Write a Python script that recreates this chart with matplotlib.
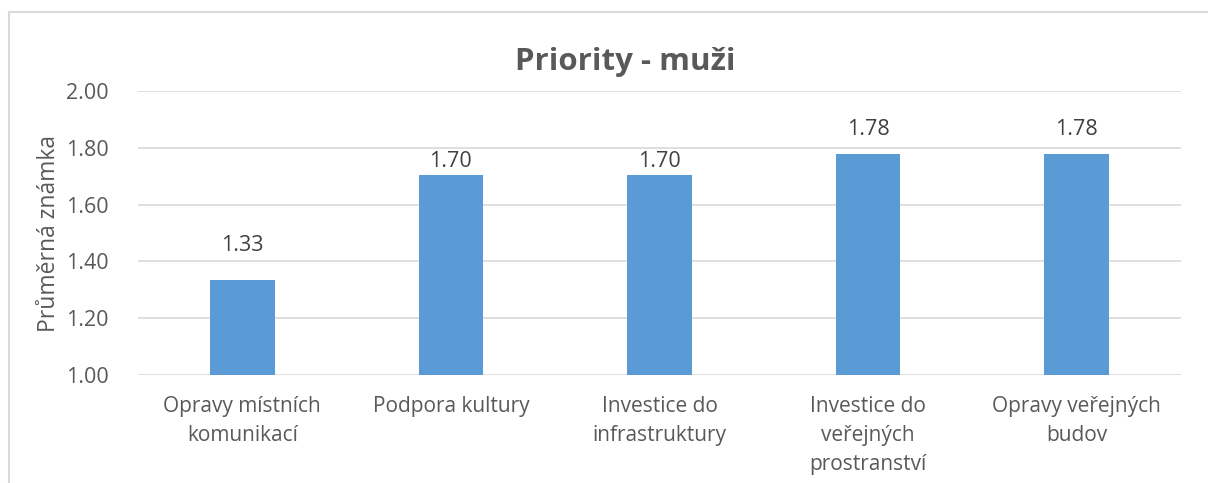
import matplotlib.pyplot as plt
from matplotlib.patches import Rectangle
import numpy as np

categories = ['Opravy místních\nkomunikací', 'Podpora kultury', 'Investice do\ninfrastruktury',
              'Investice do\nveřejných\nprostranství', 'Opravy veřejných\nbudov']
values = [1.333, 1.704, 1.704, 1.778, 1.778]
yticks = [1.00, 1.20, 1.40, 1.60, 1.80, 2.00]

plt.rcParams['font.family'] = ['Open Sans', 'DejaVu Sans']
text_color = '#595959'

fig = plt.figure(figsize=(12.08, 4.83), dpi=100)
ax = fig.add_axes([138 / 1208, 1 - 375 / 483, (1181 - 138) / 1208, (375 - 91) / 483])

# chart border (cropped at right and bottom like the reference)
fig.patches.append(Rectangle((9 / 1208, -0.1), 1.2, 1.1 - 12 / 483, transform=fig.transFigure,
                             fill=False, edgecolor='#d9d9d9', linewidth=1.5))

x = np.arange(len(categories))
ax.bar(x, values, width=0.31, color='#5b9bd5', zorder=3)
# labels were nudged by hand in the original, so gaps differ
label_gap = [0.085, 0.01, 0.01, 0.05, 0.05]
for xi, v, g in zip(x, values, label_gap):
    ax.text(xi, v + g, '%.2f' % v, ha='center', va='bottom', fontsize=15.5, color='#404040')

ax.set_xlim(-0.5, len(categories) - 0.5)
ax.set_ylim(1.0, 2.0)
ax.set_yticks(yticks)
ax.set_yticklabels(['%.2f' % t for t in yticks], fontsize=15.5, color=text_color)
ax.set_xticks(x)
ax.set_xticklabels(categories, fontsize=15, color=text_color, linespacing=1.5)
ax.tick_params(length=0, pad=15)
ax.tick_params(axis='y', pad=21)
ax.grid(axis='y', color='#d9d9d9', linewidth=1.2, zorder=0)
for s in ax.spines.values():
    s.set_visible(False)
ax.set_ylabel('Průměrná známka', fontsize=16.5, color=text_color, labelpad=4)

fig.text((515 + 735) / 2 / 1208, 1 - 62 / 483, 'Priority - muži', ha='center', va='center',
         fontsize=22.5, fontweight='bold', color=text_color)

fig.savefig('out.png', dpi=100)
